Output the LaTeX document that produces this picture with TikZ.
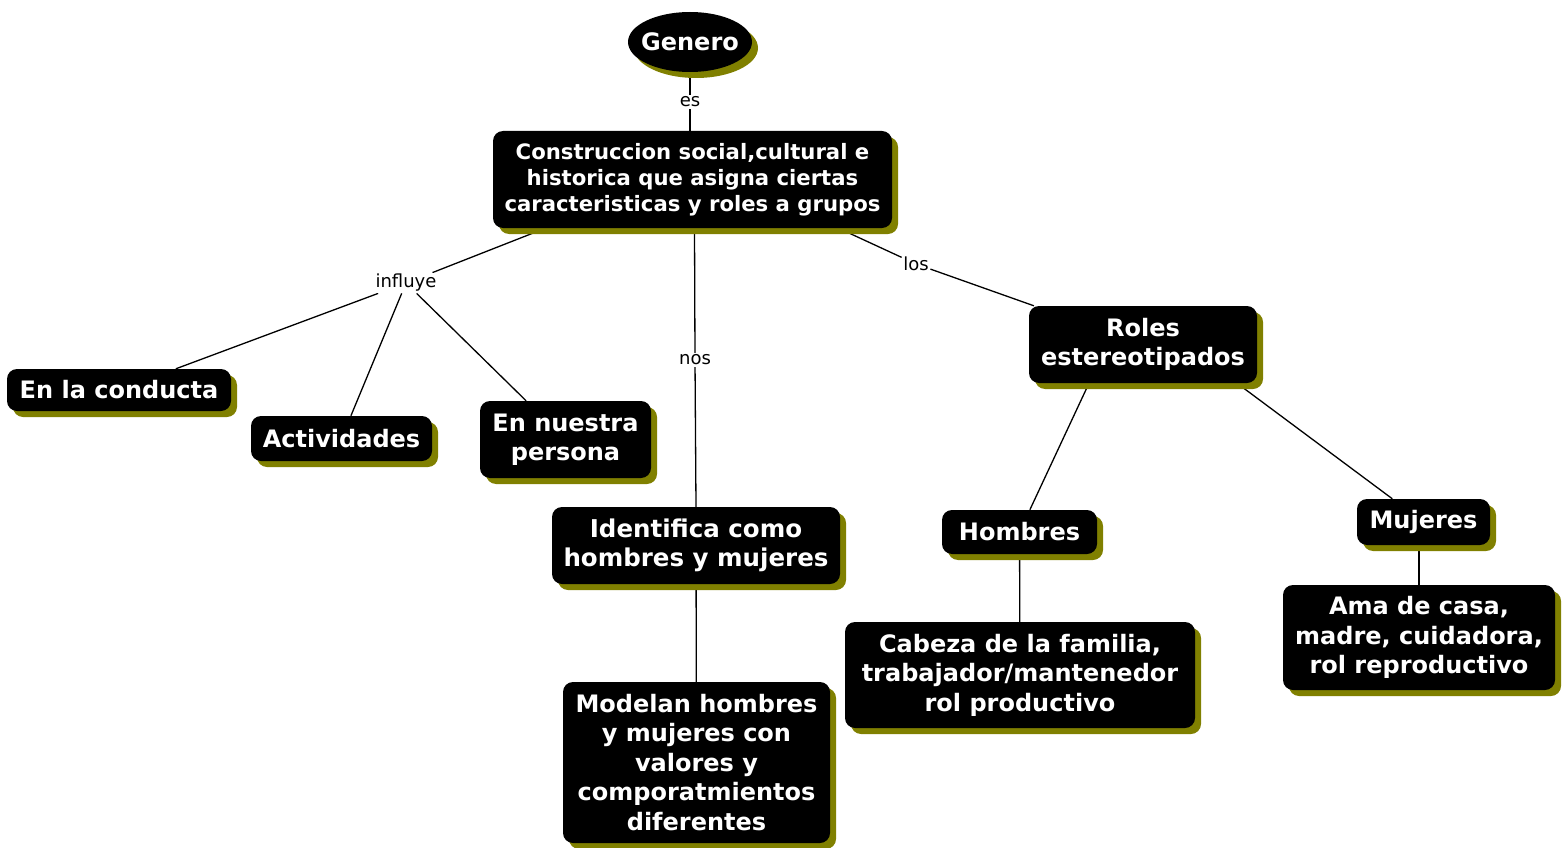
\documentclass[tikz,border=0pt]{standalone}
\usepackage{fontspec}
\setmainfont{DejaVu Sans}
\usetikzlibrary{shapes.geometric,shadows,backgrounds}
\definecolor{olv}{RGB}{128,128,0}
\begin{document}
\begin{tikzpicture}[x=1pt,y=-1pt,
  shad/.style={drop shadow={shadow xshift=6pt,shadow yshift=-6pt,opacity=1,fill=olv}},
  box/.style={fill=black,text=white,rounded corners=10pt,align=center,inner sep=0pt,shad,
    font=\bfseries\fontsize{24}{29.5}\selectfont},
  lbl/.style={fill=white,inner sep=1.5pt,font=\fontsize{18}{21}\selectfont},
  conn/.style={draw=black,line width=1.3pt}]
\useasboundingbox (0,0) rectangle (1564,848);
\node[ellipse,fill=black,text=white,shad,inner xsep=-5pt,inner ysep=0pt,minimum width=124pt,minimum height=60pt,
  font=\bfseries\fontsize{24}{26}\selectfont] (gen) at (690,42) {Genero};
\node[box,minimum width=399pt,minimum height=97pt,font=\bfseries\fontsize{21.2}{26}\selectfont] (cons) at (692.5,179.5)
  {Construccion social,cultural e\\historica que asigna ciertas\\caracteristicas y roles a grupos};
\node[box,minimum width=224pt,minimum height=42pt] (cond) at (119,390) {En la conducta};
\node[box,minimum width=181pt,minimum height=45pt] (act) at (341.5,438.5) {Actividades};
\node[box,minimum width=171pt,minimum height=77pt] (pers) at (565.5,439.5) {En nuestra\\persona};
\node[box,minimum width=288pt,minimum height=77pt,font=\bfseries\fontsize{24.5}{29.5}\selectfont] (ident) at (696,545.5) {Identifica como\\hombres y mujeres};
\node[box,minimum width=267pt,minimum height=161pt] (model) at (696.5,762.5)
  {Modelan hombres\\y mujeres con\\valores y\\comporatmientos\\diferentes};
\node[box,minimum width=228pt,minimum height=77pt] (roles) at (1143,344.5) {Roles\\estereotipados};
\node[box,minimum width=155pt,minimum height=44pt] (homb) at (1019.5,532) {Hombres};
\node[box,minimum width=133pt,minimum height=46pt] (muj) at (1423.5,522) {Mujeres};
\node[box,minimum width=350pt,minimum height=106pt] (cab) at (1020,675)
  {Cabeza de la familia,\\trabajador/mantenedor\\rol productivo};
\node[box,minimum width=272pt,minimum height=105pt] (ama) at (1419,637.5)
  {Ama de casa,\\madre, cuidadora,\\rol reproductivo};
\node[lbl] (es) at (690,102) {es};
\node[lbl] (infl) at (406,283) {influye};
\node[lbl] (nos) at (695,360) {nos};
\node[lbl] (los) at (916,264) {los};
\begin{scope}[on background layer]
\draw[conn] (gen.south) -- (es) -- (es |- cons.north);
\draw[conn] ([xshift=-147pt]cons.south) -- (infl);
\draw[conn] (infl) -- (cond);
\draw[conn] (infl) -- (act);
\draw[conn] (infl) -- (pers);
\draw[conn] ([xshift=2pt]cons.south) -- (nos) -- (ident.north);
\draw[conn] ([xshift=146pt]cons.south) -- (los) -- (roles);
\draw[conn] (ident) -- (model);
\draw[conn] ([xshift=-54pt]roles.south) -- (homb);
\draw[conn] ([xshift=94pt]roles.south) -- (muj);
\draw[conn] (homb) -- (cab);
\draw[conn] (muj.south -| ama.north) -- (ama.north);
\end{scope}
\end{tikzpicture}
\end{document}
